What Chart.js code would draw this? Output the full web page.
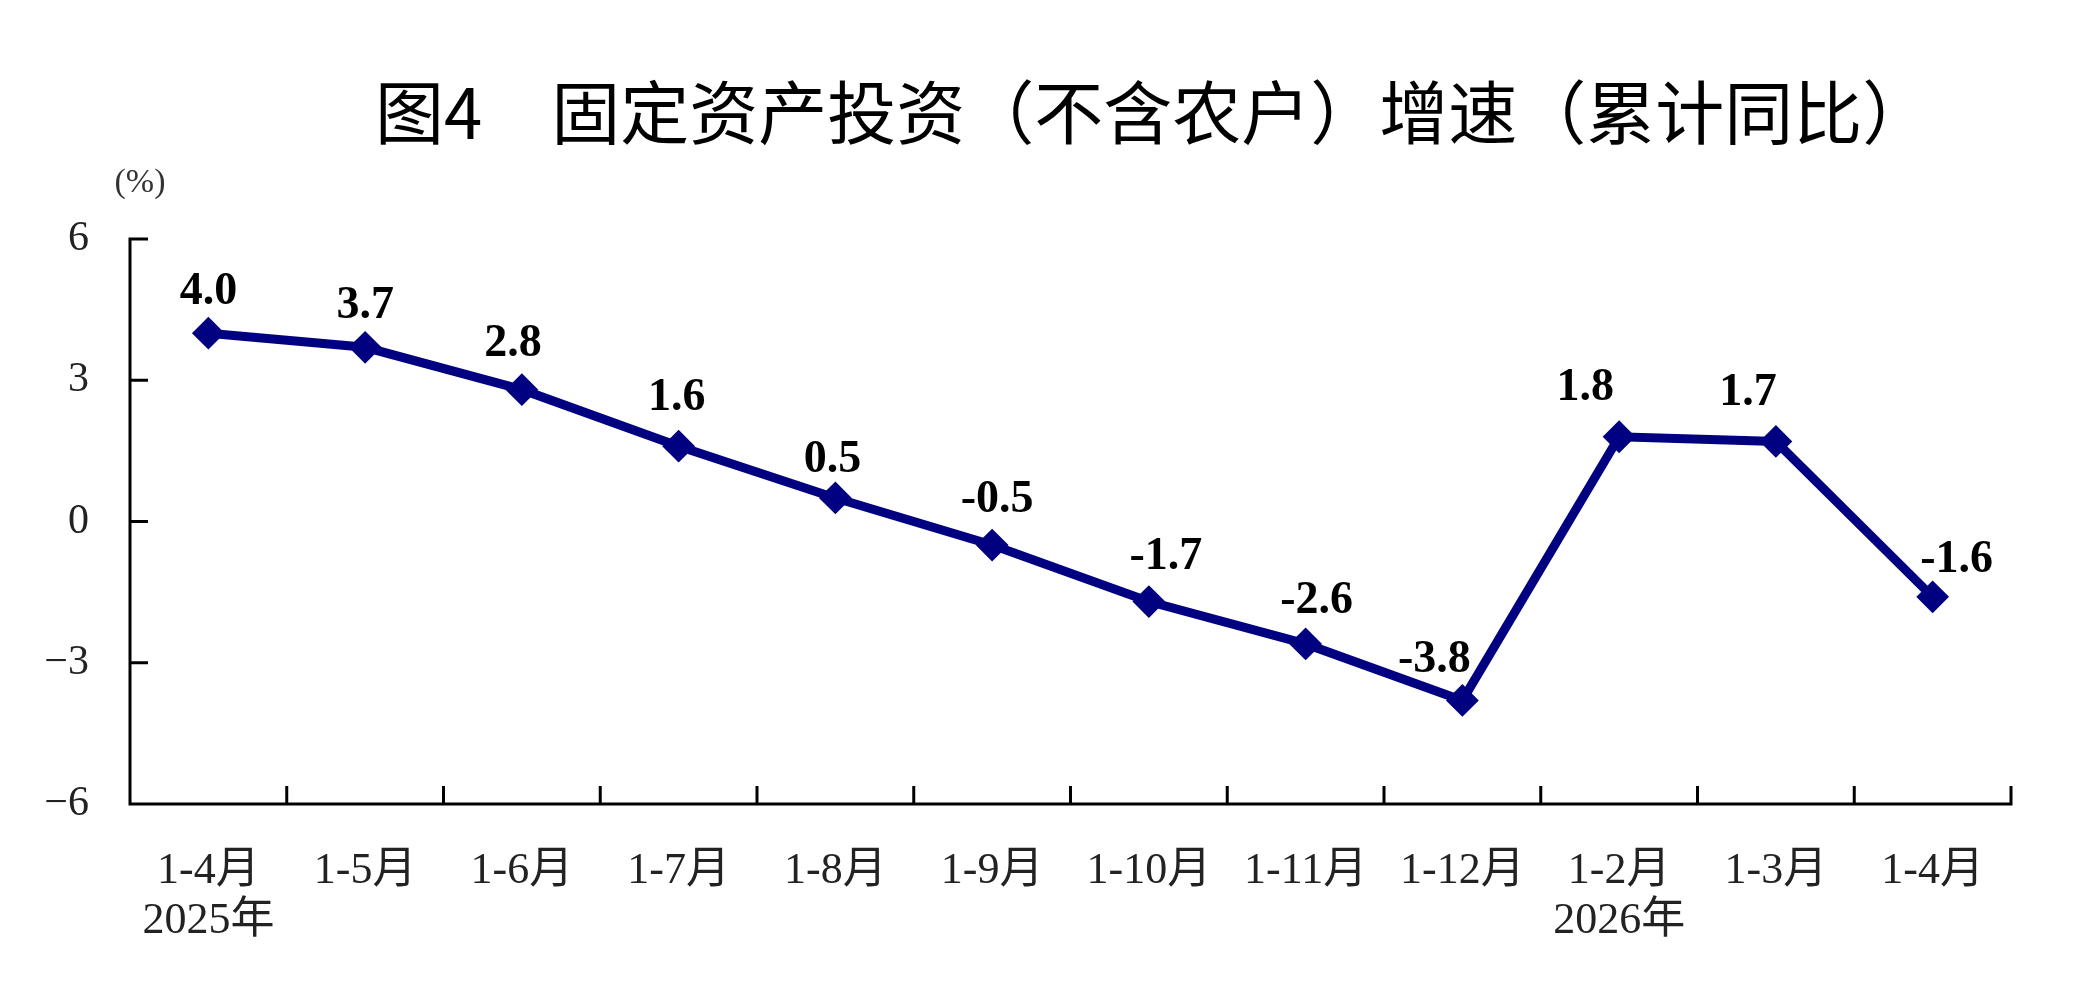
<!DOCTYPE html>
<html>
<head>
<meta charset="utf-8">
<style>
  html, body { margin: 0; padding: 0; background: #fff; }
  canvas { display: block; }
</style>
<script src="https://cdn.jsdelivr.net/npm/chart.js@4/dist/chart.umd.min.js"></script>
</head>
<body>
<canvas id="c" width="2084" height="1008"></canvas>
<script>
// ---- data ----
const categories = [['1-4月', '2025年'], '1-5月', '1-6月', '1-7月', '1-8月', '1-9月', '1-10月', '1-11月', '1-12月', ['1-2月', '2026年'], '1-3月', '1-4月'];
const growth = [4.0, 3.7, 2.8, 1.6, 0.5, -0.5, -1.7, -2.6, -3.8, 1.8, 1.7, -1.6];
const yTicks = [-6, -3, 0, 3, 6];
const titleText = '图4　固定资产投资（不含农户）增速（累计同比）';
const unitText = '(%)';

// ---- style ----
const NAVY = '#000080';
const SERIF = '"Liberation Serif", "Noto Sans CJK SC", serif';
const labelStyle = {
  dx: [0, 0, -9, -2, -3, 5, 17, 11, -28, -34, -28, 24],
  dy: [41, 41, 46, 48, 38, 45, 44, 43, 40, 49, 48, 37]
};

const axesPlugin = {
  id: 'axesPlugin',
  beforeDatasetsDraw(chart) {
    const { ctx, chartArea: { left, right, top, bottom }, scales: { x, y } } = chart;
    const tick = 18;
    ctx.save();
    ctx.strokeStyle = '#000';
    ctx.lineWidth = 3;
    ctx.lineJoin = 'miter';
    ctx.lineCap = 'butt';
    ctx.beginPath();
    ctx.moveTo(left + tick, y.getPixelForValue(yTicks[yTicks.length - 1]));
    ctx.lineTo(left, top);
    ctx.lineTo(left, bottom);
    ctx.lineTo(right, bottom);
    ctx.lineTo(right, bottom - tick);
    ctx.stroke();
    yTicks.forEach(v => {
      if (v === yTicks[0] || v === yTicks[yTicks.length - 1]) return;
      const py = y.getPixelForValue(v);
      ctx.beginPath();
      ctx.moveTo(left, py);
      ctx.lineTo(left + tick, py);
      ctx.stroke();
    });
    const n = categories.length;
    for (let i = 1; i < n; i++) {
      const px = (x.getPixelForValue(i - 1) + x.getPixelForValue(i)) / 2;
      ctx.beginPath();
      ctx.moveTo(px, bottom);
      ctx.lineTo(px, bottom - tick);
      ctx.stroke();
    }
    ctx.restore();
  },
  afterDatasetsDraw(chart) {
    const { ctx } = chart;
    const meta = chart.getDatasetMeta(0);
    ctx.save();
    ctx.fillStyle = '#000';
    ctx.font = 'bold 46px "Liberation Serif", serif';
    ctx.textAlign = 'center';
    ctx.textBaseline = 'middle';
    meta.data.forEach((pt, i) => {
      ctx.fillText(growth[i].toFixed(1), pt.x + labelStyle.dx[i], pt.y - labelStyle.dy[i]);
    });
    ctx.restore();
  },
  afterDraw(chart) {
    const { ctx } = chart;
    ctx.save();
    ctx.fillStyle = '#000';
    ctx.font = '69px "Noto Sans CJK SC", sans-serif';
    ctx.textAlign = 'left';
    ctx.textBaseline = 'middle';
    ctx.fillText(titleText, 375, 113);
    ctx.fillStyle = '#333';
    ctx.font = '34px "Liberation Serif", serif';
    ctx.textAlign = 'center';
    ctx.fillText(unitText, 140, 183);
    ctx.restore();
  }
};

new Chart(document.getElementById('c'), {
  type: 'line',
  data: {
    labels: categories,
    datasets: [{
      data: growth,
      borderColor: NAVY,
      backgroundColor: NAVY,
      borderWidth: 9,
      pointStyle: 'rectRot',
      pointRadius: 15,
      pointBorderWidth: 2,
      pointBorderColor: NAVY,
      pointBackgroundColor: NAVY,
      tension: 0,
      fill: false
    }]
  },
  options: {
    responsive: false,
    animation: false,
    devicePixelRatio: 1,
    layout: { padding: { left: 0, right: 73, top: 239, bottom: 0 } },
    plugins: {
      legend: { display: false },
      title: { display: false },
      tooltip: { enabled: false }
    },
    scales: {
      x: {
        type: 'category',
        offset: true,
        grid: { display: false },
        border: { display: false },
        ticks: {
          autoSkip: false,
          maxRotation: 0,
          minRotation: 0,
          padding: 34,
          color: '#222',
          font: { family: SERIF, size: 44, lineHeight: 1.14 }
        },
        afterFit(scale) { scale.height = 204; }
      },
      y: {
        min: -6,
        max: 6,
        grid: { display: false },
        border: { display: false },
        afterBuildTicks(scale) { scale.ticks = yTicks.map(v => ({ value: v })); },
        ticks: {
          padding: 33,
          color: '#222',
          font: { family: SERIF, size: 42 },
          callback: (v) => (v < 0 ? '−' + Math.abs(v) : String(v))
        },
        afterFit(scale) { scale.width = 130; }
      }
    }
  },
  plugins: [axesPlugin]
});
</script>
</body>
</html>
